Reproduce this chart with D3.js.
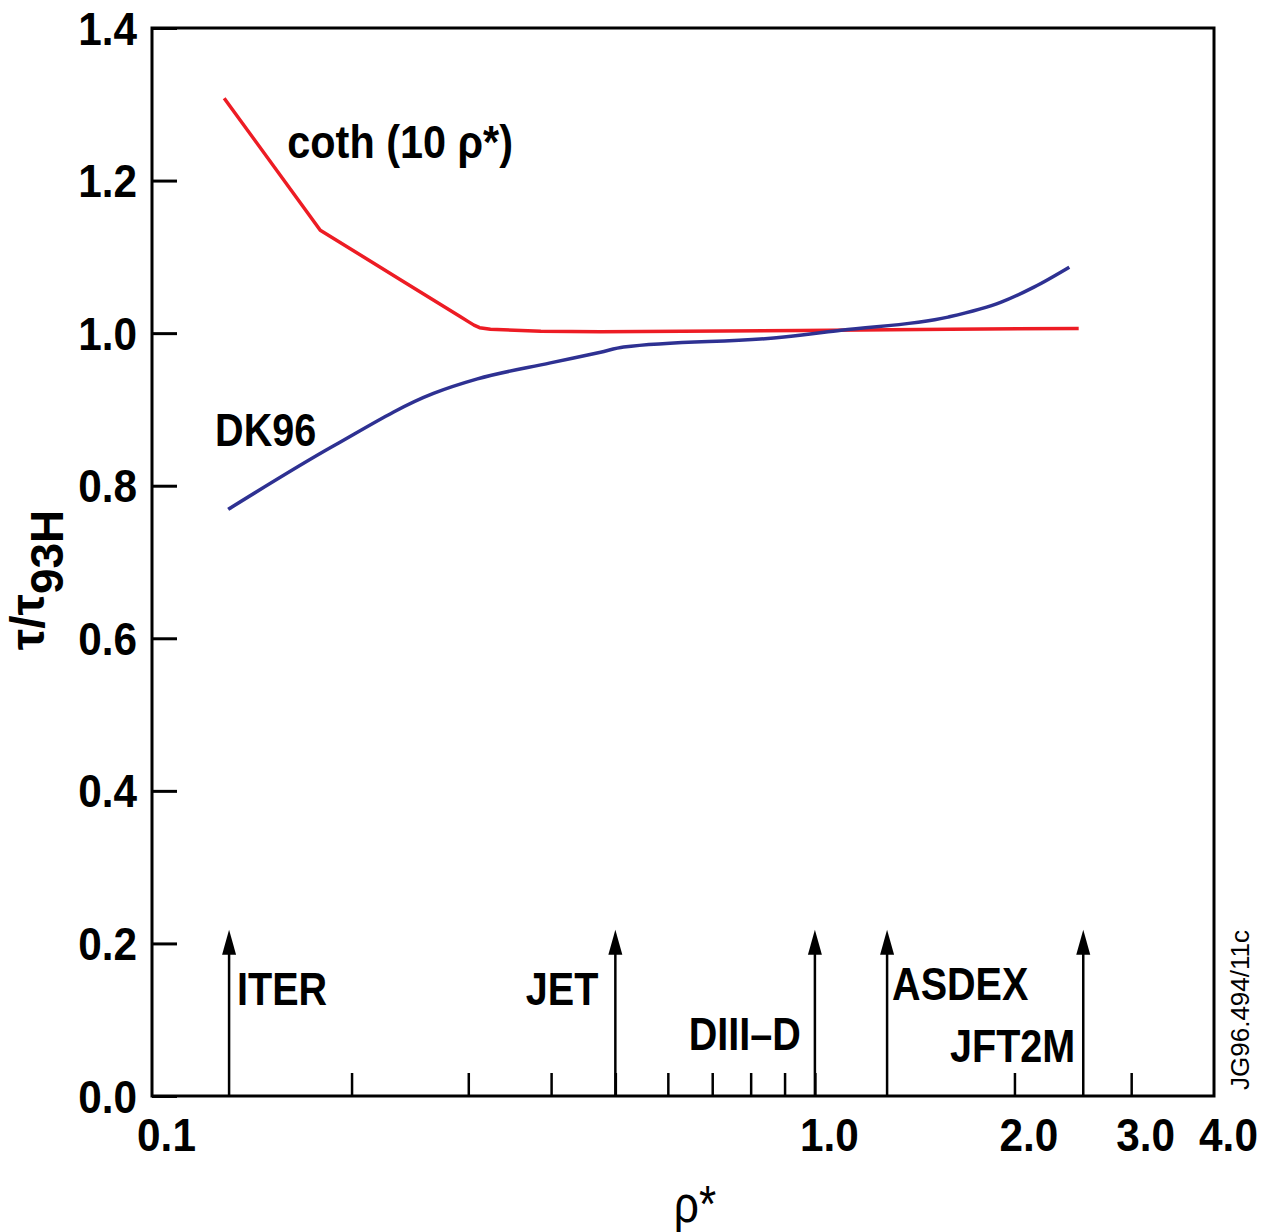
<!DOCTYPE html>
<html>
<head>
<meta charset="utf-8">
<script src="https://cdn.jsdelivr.net/npm/d3@7"></script>
<style>
  body { margin: 0; background: #fff; }
  svg { display: block; }
  .lbl { font-family: "Liberation Sans", Arial, sans-serif; font-weight: bold; fill: #000; }
  .axis path, .axis line { stroke: #000; }
</style>
</head>
<body>
<svg id="chart" width="1268" height="1232"></svg>
<script>
// rho* values (log axis)
const cothRho = [0.1285, 0.1794, 0.237, 0.292, 0.300, 0.306, 0.312, 0.324, 0.386, 0.475, 0.952, 1.60, 2.50];
const cothTau = [1.308, 1.135, 1.070, 1.0216, 1.0151, 1.0105, 1.0072, 1.0050, 1.0026, 1.0017, 1.0035, 1.005, 1.0062];

const dkRho = [0.1303, 0.1877, 0.2658, 0.3097, 0.399, 0.475, 0.5146, 0.898, 1.095, 1.588, 1.91, 2.14, 2.42];
const dkTau = [0.769, 0.852, 0.921, 0.940, 0.961, 0.975, 0.9817, 0.9948, 1.0039, 1.021, 1.0406, 1.0603, 1.0865];

const machines = ["ITER", "JET", "DIII\u2013D", "ASDEX", "JFT2M"];
const machineRho = [0.1307, 0.5, 1.0, 1.285, 2.54];
const arrowTop = 0.218;

const yTicks = [0, 0.2, 0.4, 0.6, 0.8, 1.0, 1.2, 1.4];
const xMinor = [0.2, 0.3, 0.4, 0.5, 0.6, 0.7, 0.8, 0.9, 1.0, 2.0, 3.0];
const xLabels = [0.1, 1.0, 2.0, 3.0, 4.0];

const svg = d3.select("#chart"),
  margin = {top: 28, right: 54, bottom: 136, left: 152},
  width = +svg.attr("width") - margin.left - margin.right,
  height = +svg.attr("height") - margin.top - margin.bottom;

// squeeze text horizontally (no narrow font installed)
function narrow(sel, k) {
  sel.each(function() {
    const t = d3.select(this);
    const x0 = +(t.attr("x") || 0);
    t.attr("x", x0 / k).attr("transform", "scale(" + k + ",1)");
  });
}

const g = svg.append("g")
    .attr("transform", "translate(" + margin.left + "," + margin.top + ")");

const x = d3.scaleLog().domain([0.1, 4]).range([0, width]);
const y = d3.scaleLinear().domain([0, 1.4]).range([height, 0]);

// frame
g.append("rect")
    .attr("width", width)
    .attr("height", height)
    .attr("fill", "none")
    .attr("stroke", "#000")
    .attr("stroke-width", 3);

// y axis: inward ticks
const yAxis = g.append("g")
    .attr("class", "axis")
    .call(d3.axisLeft(y).tickValues(yTicks).tickSize(-25).tickFormat(d3.format(".1f")).tickPadding(15));
yAxis.select(".domain").remove();
yAxis.selectAll("line").attr("stroke-width", 3);
yAxis.selectAll("text").attr("class", "lbl").style("font-size", "46px").attr("dy", "0.35em")
    .call(narrow, 0.92);

// x axis: inward minor ticks
const xAxis = g.append("g")
    .attr("class", "axis")
    .attr("transform", "translate(0," + height + ")")
    .call(d3.axisBottom(x).tickValues(xMinor).tickSize(-23).tickFormat(""));
xAxis.select(".domain").remove();
xAxis.selectAll("line").attr("stroke-width", 2.5);

const xLab = g.append("g")
    .attr("transform", "translate(0," + height + ")")
    .call(d3.axisBottom(x).tickValues(xLabels).tickSize(0).tickFormat(d3.format(".1f")).tickPadding(22));
xLab.select(".domain").remove();
xLab.selectAll("text").attr("class", "lbl").style("font-size", "46px").attr("x", 14)
    .call(narrow, 0.92);

// curves
g.append("path")
    .datum(d3.zip(cothRho, cothTau))
    .attr("fill", "none")
    .attr("stroke", "#ed1c24")
    .attr("stroke-width", 3.5)
    .attr("stroke-linejoin", "round")
    .attr("d", d3.line().x(d => x(d[0])).y(d => y(d[1])));

g.append("path")
    .datum(d3.zip(dkRho, dkTau))
    .attr("fill", "none")
    .attr("stroke", "#2e3192")
    .attr("stroke-width", 3.5)
    .attr("d", d3.line().x(d => x(d[0])).y(d => y(d[1])).curve(d3.curveMonotoneX));

// curve labels
g.append("g").attr("transform", "translate(" + x(0.160) + "," + y(1.23) + ")")
  .append("text").attr("class", "lbl")
    .style("font-size", "46px")
    .text("coth (10 \u03c1*)")
    .call(narrow, 0.9);

g.append("g").attr("transform", "translate(" + x(0.1245) + "," + y(0.852) + ")")
  .append("text").attr("class", "lbl")
    .style("font-size", "46px")
    .text("DK96")
    .call(narrow, 0.86);

// machine arrows
const labelPlace = {
  "ITER": {dx: 8, v: 0.119, anchor: "start"},
  "JET": {dx: -17, v: 0.119, anchor: "end"},
  "DIII\u2013D": {dx: -14, v: 0.060, anchor: "end"},
  "ASDEX": {dx: 5, v: 0.126, anchor: "start"},
  "JFT2M": {dx: -8, v: 0.045, anchor: "end"}
};

const arrows = g.append("g").selectAll("g")
  .data(d3.zip(machines, machineRho))
  .join("g")
    .attr("transform", d => "translate(" + x(d[1]) + ",0)");

arrows.append("line")
    .attr("y1", y(0))
    .attr("y2", y(arrowTop) + 20)
    .attr("stroke", "#000")
    .attr("stroke-width", 2.5);

arrows.append("path")
    .attr("d", "M0," + y(arrowTop) + "L-7," + (y(arrowTop) + 25) + "L7," + (y(arrowTop) + 25) + "Z")
    .attr("fill", "#000");

arrows.append("g")
    .attr("transform", d => "translate(" + labelPlace[d[0]].dx + "," + y(labelPlace[d[0]].v) + ")")
  .append("text")
    .attr("class", "lbl")
    .attr("text-anchor", d => labelPlace[d[0]].anchor)
    .style("font-size", "46px")
    .text(d => d[0])
    .call(narrow, 0.86);

// axis titles
svg.append("g").attr("transform", "translate(695,1222)")
  .append("text")
    .attr("text-anchor", "middle")
    .style("font-family", "'Liberation Sans', Arial, sans-serif")
    .style("font-size", "52px")
    .text("\u03c1*")
    .call(narrow, 0.85);

const yt = svg.append("text")
    .attr("class", "lbl")
    .attr("transform", "translate(44,580) rotate(-90)")
    .attr("text-anchor", "middle")
    .style("font-size", "48px");
yt.append("tspan").text("\u03c4/\u03c4");
yt.append("tspan").attr("dy", 19).style("font-size", "46px").text("93H");

svg.append("text")
    .attr("transform", "translate(1249,1010) rotate(-90)")
    .attr("text-anchor", "middle")
    .style("font-family", "'Liberation Sans', Arial, sans-serif")
    .style("font-size", "26px")
    .text("JG96.494/11c");
</script>
</body>
</html>
